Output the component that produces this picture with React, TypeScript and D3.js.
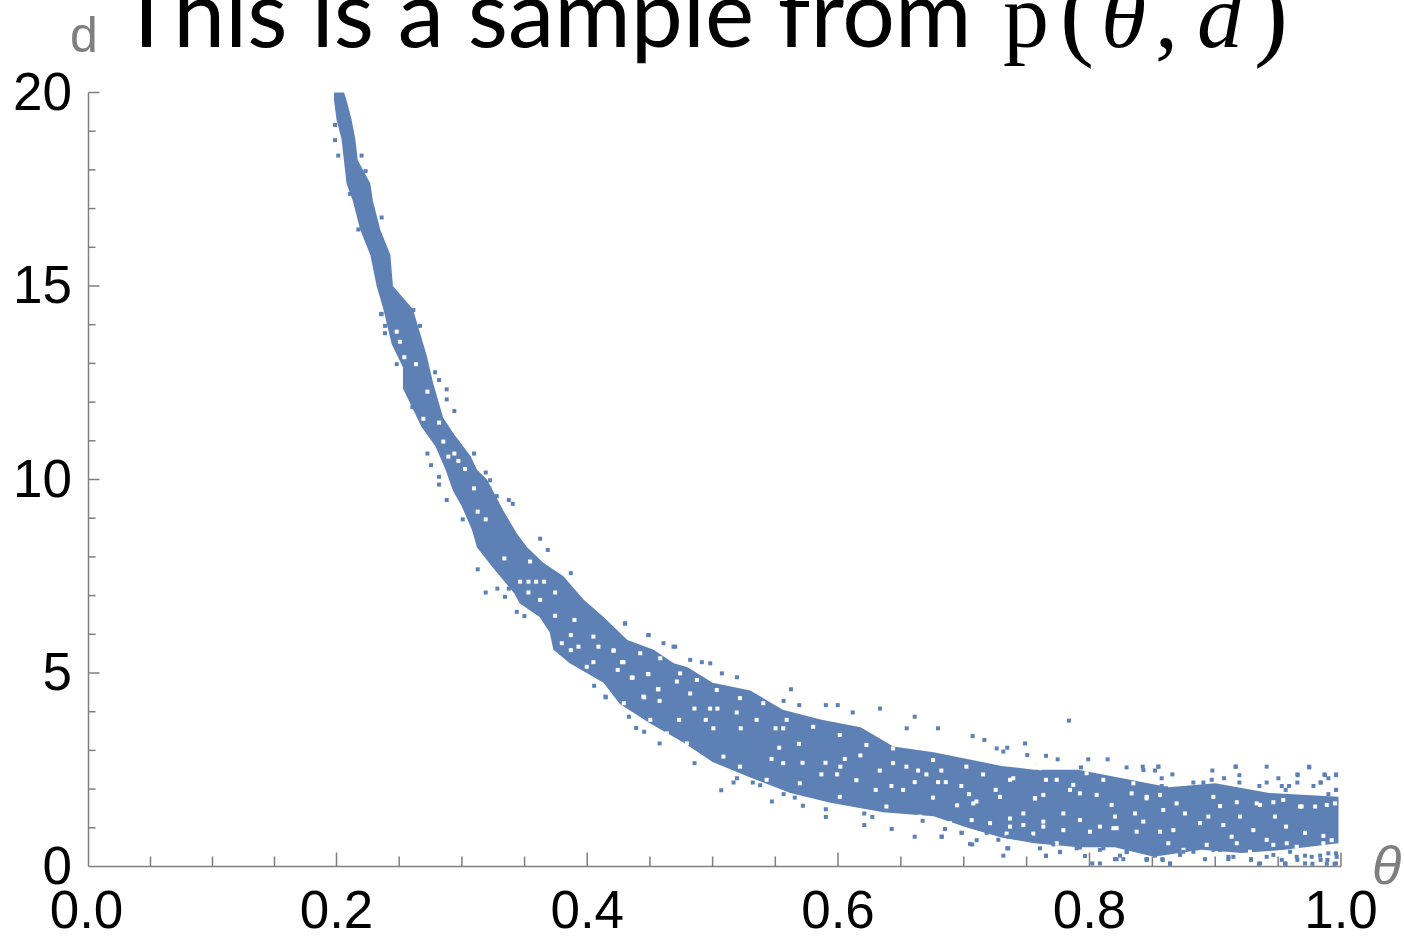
import React from "react";
import * as d3 from "d3";

const width = 1404;
const height = 944;

// tick values
const xMajor = [0, 0.2, 0.4, 0.6, 0.8, 1.0];
const xMinor = [0.05, 0.1, 0.15, 0.25, 0.3, 0.35, 0.45, 0.5, 0.55, 0.65, 0.7, 0.75, 0.85, 0.9, 0.95];
const yMajor = [0, 5, 10, 15, 20];
const yMinor = [1, 2, 3, 4, 6, 7, 8, 9, 11, 12, 13, 14, 16, 17, 18, 19];

// dense part of the cloud, upper side, read as [theta, d]
const upperEdge: [number, number][] = [
  [0.206, 20], [0.208, 19.8], [0.212, 19.3], [0.215, 18.8], [0.217, 18.25], [0.227, 17.65], [0.229, 17.2],
  [0.235, 16.45], [0.243, 15.8], [0.245, 15.0], [0.261, 14.4], [0.272, 13.2], [0.277, 12.5], [0.285, 11.6],
  [0.293, 11.2], [0.307, 10.6], [0.312, 10.25], [0.32, 10.0], [0.333, 9.2], [0.344, 8.6], [0.352, 8.25],
  [0.365, 7.85], [0.381, 7.5], [0.397, 6.9], [0.413, 6.45], [0.432, 5.85], [0.453, 5.6], [0.469, 5.25],
  [0.48, 5.15], [0.5, 4.75], [0.53, 4.55], [0.556, 4.05], [0.586, 3.8], [0.618, 3.6], [0.644, 3.1],
  [0.676, 2.95], [0.73, 2.6], [0.756, 2.5], [0.791, 2.5], [0.823, 2.3], [0.863, 2.05], [0.9, 2.15],
  [0.943, 1.9], [0.998, 1.8],
];

// dense part of the cloud, lower side, from right to left
const lowerEdge: [number, number][] = [
  [0.998, 0.6], [0.955, 0.43], [0.921, 0.35], [0.889, 0.43], [0.851, 0.25], [0.82, 0.5], [0.791, 0.5],
  [0.756, 0.6], [0.73, 0.75], [0.703, 1.0], [0.676, 1.3], [0.636, 1.4], [0.594, 1.65], [0.562, 1.9],
  [0.53, 2.3], [0.5, 2.7], [0.477, 3.2], [0.45, 3.7], [0.426, 4.2], [0.413, 4.75], [0.386, 5.25],
  [0.373, 5.6], [0.37, 6.05], [0.362, 6.45], [0.346, 6.8], [0.342, 7.05], [0.324, 7.75], [0.312, 8.25],
  [0.308, 8.7], [0.3, 9.3], [0.293, 9.7], [0.287, 10.25], [0.279, 10.85], [0.268, 11.35], [0.253, 12.35],
  [0.253, 12.9], [0.244, 13.5], [0.237, 14.45], [0.232, 15.0], [0.227, 15.8], [0.219, 16.45], [0.213, 17.2],
  [0.208, 17.65], [0.204, 18.8], [0.2, 19.3], [0.198, 19.8], [0.198, 20],
];

// single points standing outside the dense part
const strayPoints: [number, number][] = [
  [0.1988, 19.16], [0.1988, 18.77], [0.2014, 18.37], [0.22, 18.37], [0.2232, 17.97], [0.236, 16.77], [0.2174, 16.46],
  [0.236, 14.28], [0.2613, 14.38], [0.2107, 17.38],
  [0.2355, 14.27], [0.2387, 13.97], [0.2387, 13.78], [0.2666, 13.97], [0.2632, 13.78], [0.248, 12.98], [0.2786, 12.77],
  [0.2818, 12.57], [0.2879, 12.33], [0.2879, 12.07], [0.2605, 11.87], [0.294, 11.77], [0.2725, 10.67], [0.2754, 10.37],
  [0.2818, 10.07], [0.2818, 9.87], [0.2879, 9.47], [0.3097, 10.67], [0.319, 10.18], [0.3225, 9.98], [0.3219, 9.77],
  [0.3278, 9.57], [0.3374, 9.47], [0.3406, 9.37], [0.3007, 8.97], [0.3624, 8.47], [0.3685, 8.18], [0.3126, 7.68],
  [0.319, 7.08], [0.3283, 7.18], [0.3374, 7.18], [0.3344, 6.97], [0.3438, 6.58], [0.3499, 6.47], [0.3869, 7.58],
  [0.43, 6.28], [0.4488, 5.98], [0.4608, 5.77], [0.4688, 5.68], [0.4821, 5.34], [0.4914, 5.28], [0.4055, 4.67],
  [0.4145, 4.39], [0.4303, 6.28], [0.4489, 5.98], [0.4702, 5.68], [0.4981, 5.25], [0.5074, 4.99], [0.5194, 4.89],
  [0.5625, 4.58], [0.5566, 4.28], [0.5691, 4.17], [0.5903, 4.17], [0.5998, 4.17], [0.6117, 3.98], [0.6334, 4.08],
  [0.661, 3.87], [0.6546, 3.57], [0.6795, 3.57], [0.7071, 3.37], [0.7164, 3.27], [0.7262, 3.05], [0.4148, 4.37],
  [0.4332, 3.87], [0.439, 3.58], [0.4454, 3.48], [0.4577, 3.18], [0.4856, 2.67], [0.5069, 1.97], [0.5473, 1.68],
  [0.572, 1.57], [0.5903, 1.48], [0.5903, 1.28], [0.6209, 1.37], [0.6273, 1.28], [0.6209, 1.07], [0.6427, 0.97],
  [0.661, 0.77], [0.6825, 0.77], [0.6673, 1.18], [0.6983, 0.87], [0.705, 0.58], [0.7103, 0.68], [0.5167, 2.17],
  [0.5194, 2.28], [0.532, 2.17], [0.5379, 2.1], [0.5566, 1.87], [0.5655, 1.78],
  [0.7837, 3.77], [0.7487, 3.18], [0.7346, 3.07], [0.7315, 2.97], [0.7505, 2.88], [0.7654, 2.86], [0.7747, 2.77],
  [0.799, 2.77], [0.8144, 2.77], [0.7932, 2.56], [0.8295, 2.56], [0.8423, 2.58], [0.8547, 2.58], [0.8977, 2.48],
  [0.9162, 2.58], [0.9409, 2.58], [0.9748, 2.56], [0.9656, 2.36], [0.996, 2.36], [0.9873, 2.36], [0.9502, 2.28],
  [0.907, 2.28], [0.9192, 2.36], [0.9409, 2.17], [0.9838, 2.17], [0.996, 1.98], [0.7346, 0.47], [0.7315, 0.28],
  [0.7654, 0.28], [0.8083, 0.08], [0.8202, 0.19], [0.8269, 0.19], [0.8454, 0.19], [0.8579, 0.19], [0.864, 0.08],
  [0.8919, 0.19], [0.9104, 0.19], [0.9284, 0.19], [0.9356, 0.08], [0.9555, 0.08], [0.9714, 0.08], [0.9838, 0.17],
  [0.996, 0.08], [0.8022, 0.08], [0.7765, 0.38], [0.7924, 0.49], [0.811, 0.47], [0.8295, 0.38], [0.8534, 0.34],
  [0.8746, 0.38], [0.8985, 0.43], [0.9144, 0.25], [0.9462, 0.3], [0.9648, 0.25], [0.9767, 0.25], [0.9899, 0.34],
  [0.996, 0.34],
  // right end, from the closer crops
  [0.8429, 2.49], [0.8548, 2.58], [0.8521, 2.48], [0.8574, 2.28], [0.8659, 2.38], [0.9163, 2.58], [0.9746, 2.58],
  [0.9653, 2.38], [0.9868, 2.38], [0.9961, 2.38], [0.99, 2.28], [0.9839, 2.17], [0.9351, 2.08], [0.9529, 2.08],
  [0.9587, 2.08], [0.9653, 2.17], [0.8826, 2.17], [0.8906, 2.17], [0.8972, 2.24], [0.8574, 2.08], [0.8609, 2.02],
  [0.9192, 2.17], [0.9781, 2.08], [0.9961, 1.98], [0.99, 1.87], [0.956, 1.98], [0.9105, 1.89], [0.88, 1.89],
  [0.8455, 0.17], [0.8582, 0.17], [0.8521, 0.28], [0.8641, 0.07], [0.9285, 0.17], [0.9348, 0.07], [0.9529, 0.17],
  [0.956, 0.07], [0.9653, 0.17], [0.9773, 0.07], [0.9714, 0.28], [0.9892, 0.17], [0.9834, 0.28], [0.9105, 0.25],
  [0.9038, 0.43], [0.9409, 0.25], [0.9595, 0.38], [0.8826, 0.38], [0.872, 0.3], [0.8667, 0.43], [0.8588, 0.47],
  [0.8442, 0.47], [0.9966, 0.25], [0.9948, 0.07], [0.9887, 0.07],
  [0.6983, 0.87], [0.6824, 0.77], [0.6851, 0.97], [0.7182, 0.87], [0.7068, 0.57], [0.7275, 0.69], [0.7354, 0.47],
  [0.7654, 0.27], [0.7765, 0.37], [0.7898, 0.47], [0.7964, 0.27], [0.8216, 0.19], [0.8243, 0.28], [0.8083, 0.43],
  [0.8296, 0.37], [0.8455, 0.19], [0.8415, 0.47], [0.7712, 0.57], [0.7606, 0.47], [0.7871, 0.69], [0.7686, 0.69],
  [0.7527, 0.77], [0.7354, 0.77], [0.7288, 0.94],
];

// empty cells inside the dense part
const gapCells: [number, number][] = [
  [0.248, 13.82], [0.2506, 13.56], [0.2541, 13.16], [0.2634, 12.98], [0.2725, 12.27], [0.2693, 11.57], [0.2818, 11.47],
  [0.2852, 10.98], [0.294, 10.67], [0.2972, 10.48], [0.2892, 10.59], [0.3025, 10.27], [0.3097, 9.77], [0.3126, 9.17],
  [0.319, 8.97], [0.3339, 7.96], [0.3544, 7.88], [0.3464, 7.36], [0.3531, 7.36], [0.3592, 7.36], [0.3656, 7.36],
  [0.3531, 7.08], [0.3744, 7.08], [0.3624, 6.89], [0.3744, 6.48], [0.3898, 6.37], [0.3869, 5.98], [0.4049, 5.94],
  [0.3797, 5.77], [0.3869, 5.59], [0.393, 5.68], [0.4209, 5.58], [0.4089, 5.68], [0.4049, 5.28], [0.4289, 5.28],
  [0.4355, 4.88], [0.4488, 4.97], [0.4568, 4.58], [0.4715, 4.78], [0.4821, 4.47], [0.4448, 4.39], [0.3996, 5.16],
  [0.4211, 5.58], [0.4277, 5.28], [0.4243, 5.08], [0.4362, 4.88], [0.4484, 4.97], [0.4564, 4.58], [0.4577, 4.28],
  [0.4455, 4.37], [0.4733, 3.79], [0.4855, 4.08], [0.498, 4.08], [0.5038, 4.08], [0.5192, 3.98], [0.4945, 3.79],
  [0.5006, 3.57], [0.5224, 3.57], [0.5351, 3.79], [0.5502, 3.57], [0.5563, 3.57], [0.5688, 3.17], [0.5531, 3.07],
  [0.5717, 2.68], [0.59, 2.68], [0.547, 2.78], [0.5563, 2.67], [0.6019, 2.58], [0.6178, 2.87], [0.6054, 2.78],
  [0.6332, 2.48], [0.6438, 2.67], [0.6544, 2.58], [0.6637, 2.48], [0.6703, 2.38], [0.6822, 2.48], [0.6796, 2.18],
  [0.6857, 2.18], [0.6981, 2.08], [0.5868, 2.38], [0.5993, 2.38], [0.6146, 2.23], [0.63, 1.98], [0.6425, 2.08],
  [0.6518, 1.98], [0.661, 2.18], [0.6756, 1.78], [0.6947, 1.58], [0.7042, 1.87], [0.7101, 1.68], [0.7254, 1.98],
  [0.7154, 2.38], [0.7394, 2.28], [0.7566, 1.76], [0.7633, 1.85], [0.7654, 2.24], [0.7845, 1.98], [0.7924, 1.89],
  [0.8057, 1.85], [0.8176, 1.59], [0.8335, 1.89], [0.8203, 1.29], [0.8454, 1.76], [0.8587, 1.46], [0.8693, 1.63],
  [0.8362, 1.37], [0.8759, 1.37], [0.8945, 1.29], [0.9038, 1.56], [0.9197, 1.29], [0.9475, 1.29], [0.9563, 1.03],
  [0.9714, 0.87], [0.986, 0.79], [0.9409, 0.69], [0.9303, 0.94], [0.913, 0.77], [0.9064, 1.07], [0.8879, 1.12],
  [0.8667, 0.94], [0.8561, 0.9], [0.8428, 1.16], [0.8216, 0.99], [0.8083, 1.03], [0.7924, 1.2], [0.7792, 1.37],
  [0.7633, 1.16], [0.7474, 1.37], [0.7368, 1.24], [0.7341, 0.85], [0.7553, 0.85], [0.7739, 0.6], [0.9568, 0.6],
  [0.9794, 1.55], [0.9687, 1.55], [0.9541, 1.72], [0.9356, 1.59], [0.9952, 1.63],
  // near the edges of the band
  [0.8455, 1.8], [0.8561, 1.85], [0.8985, 1.8], [0.9171, 1.66], [0.933, 1.63], [0.9462, 1.66], [0.9674, 1.55],
  [0.9887, 1.59], [0.8627, 0.6], [0.8747, 0.43], [0.8932, 0.56], [0.9171, 0.6], [0.9277, 0.38], [0.9462, 0.56],
  [0.9648, 0.51], [0.9781, 0.34], [0.986, 0.6], [0.9926, 0.68], [0.6891, 1.12], [0.7063, 1.2], [0.7209, 1.12],
  [0.7368, 1.03], [0.7474, 1.07], [0.7633, 1.03], [0.7792, 0.94], [0.8004, 0.9], [0.819, 0.99], [0.8375, 0.9],
  [0.7368, 2.24], [0.7606, 2.54], [0.7739, 2.24], [0.7871, 2.11], [0.811, 2.24], [0.8349, 2.15], [0.7977, 2.41],
  [0.8216, 2.54], [0.7288, 1.8], [0.7567, 1.76], [0.7076, 1.63], [0.4423, 5.51], [0.4582, 5.38], [0.4741, 4.99],
  [0.4874, 4.82], [0.5033, 4.56], [0.5218, 4.35], [0.5404, 4.22], [0.559, 3.79], [0.5802, 3.61], [0.6014, 3.4],
  [0.6226, 3.14], [0.6438, 3.05], [0.6756, 2.75], [0.7021, 2.58], [0.4291, 4.22], [0.4503, 3.79], [0.4635, 3.44],
  [0.4794, 3.18], [0.5086, 2.84], [0.5218, 2.58], [0.5431, 2.24], [0.5695, 2.15], [0.6014, 1.8], [0.6385, 1.55],
  [0.665, 1.29], [0.6889, 1.11],
];

// the axis in the picture is not quite even, so 0.2 .. 0.6 are pinned to where the ticks are
const x = d3.scaleLinear().domain([0, 0.2, 0.6, 1]).range([88.5, 336.5, 838, 1341]);
const y = d3.scaleLinear().domain([0, 20]).range([866.5, 92.5]);

const axisColor = "#7f7f7f";
const pointColor = "#5e81b5";
const labelFont = "'Liberation Sans', Arial, sans-serif";
const mathFont = "'Liberation Serif', serif";
const cell = 4;

const band = d3
  .line<[number, number]>()
  .x((d) => x(d[0]))
  .y((d) => y(d[1]))
  .curve(d3.curveLinearClosed);

export default function App() {
  return (
    <svg
      width={width}
      height={height}
      style={{ position: "absolute", left: 0, top: 0, background: "#fff" }}
    >
      {/* title, the top of it is cut by the page edge like in the picture */}
      <g fill="#000">
        <text x={119} y={47} fontFamily="Lato" fontSize={93}>
          This is a sample from
        </text>
        <text x={1003} y={47} fontFamily={mathFont} fontSize={92}>
          p
        </text>
        <text x={1060} y={47} fontFamily={mathFont} fontSize={102}>
          (
        </text>
        <text x={1101} y={47} fontFamily={mathFont} fontStyle="italic" fontSize={92}>
          θ
        </text>
        <text x={1155} y={47} fontFamily={mathFont} fontSize={92}>
          ,
        </text>
        <text x={1197} y={47} fontFamily={mathFont} fontStyle="italic" fontSize={92}>
          d
        </text>
        <text x={1254} y={47} fontFamily={mathFont} fontSize={102}>
          )
        </text>
      </g>

      {/* points */}
      <path d={band([...upperEdge, ...lowerEdge]) ?? ""} fill={pointColor} />
      {gapCells.map((d, i) => (
        <rect key={i} x={x(d[0]) - cell / 2} y={y(d[1]) - cell / 2} width={cell} height={cell} fill="#fff" />
      ))}
      {strayPoints.map((d, i) => (
        <rect key={i} x={x(d[0]) - cell / 2} y={y(d[1]) - cell / 2} width={cell} height={cell} fill={pointColor} />
      ))}

      {/* axes */}
      <g stroke={axisColor} strokeWidth={1.5} fill="none">
        <line x1={x(0)} x2={x(1)} y1={y(0)} y2={y(0)} />
        <line x1={x(0)} x2={x(0)} y1={y(0)} y2={y(20)} />
        {xMajor.slice(1).map((t) => (
          <line key={t} x1={x(t)} x2={x(t)} y1={y(0)} y2={y(0) - 14} />
        ))}
        {xMinor.map((t) => (
          <line key={t} x1={x(t)} x2={x(t)} y1={y(0)} y2={y(0) - 10} />
        ))}
        {yMajor.slice(1).map((t) => (
          <line key={t} x1={x(0)} x2={x(0) + 11} y1={y(t)} y2={y(t)} />
        ))}
        {yMinor.map((t) => (
          <line key={t} x1={x(0)} x2={x(0) + 7} y1={y(t)} y2={y(t)} />
        ))}
      </g>

      {/* tick labels */}
      <g fontFamily={labelFont} fontSize={53} fill="#000">
        {yMajor.map((t) => (
          <text key={t} x={72} y={y(t) + 17} textAnchor="end">
            {t}
          </text>
        ))}
        {xMajor.map((t) => (
          <text key={t} x={x(t) - (t === 0 ? 2 : 0)} y={928} textAnchor="middle">
            {t.toFixed(1)}
          </text>
        ))}
      </g>

      {/* axis names */}
      <text x={70} y={52} fontFamily={labelFont} fontSize={50} fill="#7f7f7f">
        d
      </text>
      <text x={1372} y={884} fontFamily={labelFont} fontStyle="italic" fontSize={54} fill="#7f7f7f">
        θ
      </text>
    </svg>
  );
}
